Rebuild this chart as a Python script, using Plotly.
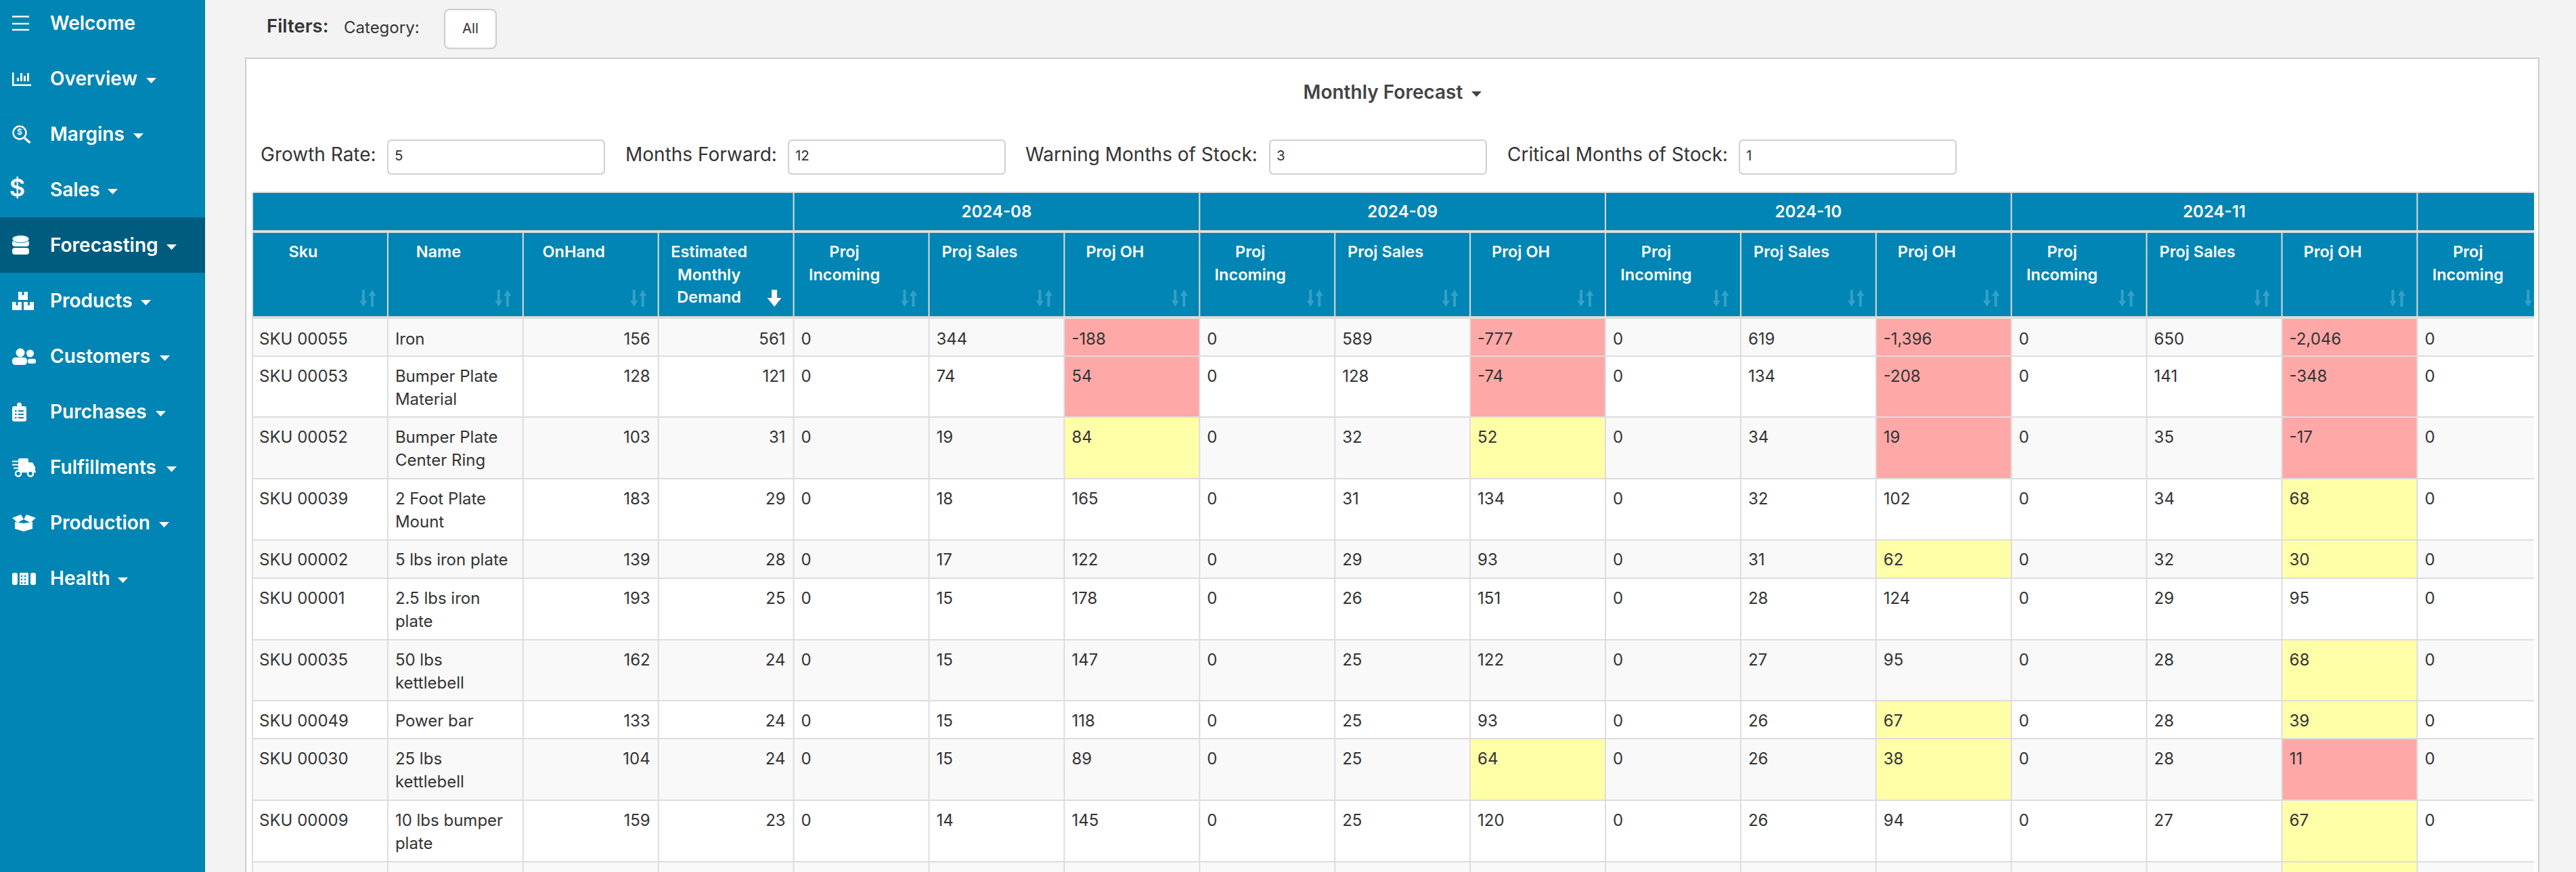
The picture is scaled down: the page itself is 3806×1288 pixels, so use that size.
import plotly.graph_objects as go

# ---------- data ----------
MENU = ["Welcome", "Overview", "Margins", "Sales", "Forecasting", "Products",
        "Customers", "Purchases", "Fulfillments", "Production", "Health"]
SKUS = ["SKU 00055", "SKU 00053", "SKU 00052", "SKU 00039", "SKU 00002",
        "SKU 00001", "SKU 00035", "SKU 00049", "SKU 00030", "SKU 00009"]
NAMES = [["Iron"], ["Bumper Plate", "Material"], ["Bumper Plate", "Center Ring"],
         ["2 Foot Plate", "Mount"], ["5 lbs iron plate"], ["2.5 lbs iron", "plate"],
         ["50 lbs", "kettlebell"], ["Power bar"], ["25 lbs", "kettlebell"],
         ["10 lbs bumper", "plate"]]
ON_HAND = [156, 128, 103, 183, 139, 193, 162, 133, 104, 159]
DEMAND = [561, 121, 31, 29, 28, 25, 24, 24, 24, 23]
MONTHS = ["2024-08", "2024-09", "2024-10", "2024-11"]
INCOMING = [0, 0, 0, 0, 0, 0, 0, 0, 0, 0]
SALES_08 = [344, 74, 19, 18, 17, 15, 15, 15, 15, 14]
SALES_09 = [589, 128, 32, 31, 29, 26, 25, 25, 25, 25]
SALES_10 = [619, 134, 34, 32, 31, 28, 27, 26, 26, 26]
SALES_11 = [650, 141, 35, 34, 32, 29, 28, 28, 28, 27]
OH_08 = [-188, 54, 84, 165, 122, 178, 147, 118, 89, 145]
OH_09 = [-777, -74, 52, 134, 93, 151, 122, 93, 64, 120]
OH_10 = [-1396, -208, 19, 102, 62, 124, 95, 67, 38, 94]
OH_11 = [-2046, -348, -17, 68, 30, 95, 68, 39, 11, 67]
FLAG_08 = ["c", "c", "w", "", "", "", "", "", "", ""]
FLAG_09 = ["c", "c", "w", "", "", "", "", "", "w", ""]
FLAG_10 = ["c", "c", "c", "", "w", "", "", "w", "w", ""]
FLAG_11 = ["c", "c", "c", "w", "w", "", "w", "w", "c", "w"]
SALES = [SALES_08, SALES_09, SALES_10, SALES_11]
OH = [OH_08, OH_09, OH_10, OH_11]
FLAGS = [FLAG_08, FLAG_09, FLAG_10, FLAG_11]
FILTER_LABELS = ["Growth Rate:", "Months Forward:", "Warning Months of Stock:", "Critical Months of Stock:"]
FILTER_VALUES = ["5", "12", "3", "1"]
HEADERS = [["Sku"], ["Name"], ["OnHand"], ["Estimated", "Monthly", "Demand"]]
MONTH_HEADERS = [["Proj", "Incoming"], ["Proj Sales"], ["Proj OH"]]

# ---------- styles / layout ----------
W, H = 3806, 1288
FONT = "Inter"
BLUE, DARK = "#0085B4", "#005C7F"
PAGE, TXT, LINE = "#F3F3F3", "#333333", "#DDDDDD"
RED, YELLOW, STRIPE = "#FFA8A8", "#FFFFA8", "#F9F9F9"
SORT = "#35A0C6"
T_L, T_R = 373, 3744
COL_W = 199.9
ROW_EDGES = [471, 526, 616, 707, 797.5, 854, 945, 1035, 1091, 1182, 1273, 1290]
ROW_TOP_PAD = 29.5
LINE_H = 34.3
TEXT_DY = 2


def col_x(i):
    return T_L + COL_W * i


shapes = []
groups = {}


def rect(x0, y0, x1, y1, fill, line=None, lw=0):
    shapes.append(dict(type="rect", x0=x0, y0=y0, x1=x1, y1=y1, fillcolor=fill, layer="below",
                       line=dict(color=line or fill, width=lw)))


def circle(cx, cy, rx, ry=None, fill="white", line=None, lw=0):
    ry = ry or rx
    shapes.append(dict(type="circle", x0=cx - rx, y0=cy - ry, x1=cx + rx, y1=cy + ry, fillcolor=fill,
                       layer="below", line=dict(color=line or fill, width=lw)))


def seg(x0, y0, x1, y1, color, lw=2):
    shapes.append(dict(type="line", x0=x0, y0=y0, x1=x1, y1=y1, layer="below", line=dict(color=color, width=lw)))


def poly(pts, fill="white"):
    d = "M" + " L".join(f"{x},{y}" for x, y in pts) + " Z"
    shapes.append(dict(type="path", path=d, fillcolor=fill, layer="below", line=dict(width=0)))


def rrect(x0, y0, x1, y1, r, fill, line=None, lw=0):
    d = (f"M{x0+r},{y0} L{x1-r},{y0} Q{x1},{y0} {x1},{y0+r} L{x1},{y1-r} Q{x1},{y1} {x1-r},{y1} "
         f"L{x0+r},{y1} Q{x0},{y1} {x0},{y1-r} L{x0},{y0+r} Q{x0},{y0} {x0+r},{y0} Z")
    shapes.append(dict(type="path", path=d, fillcolor=fill, layer="below",
                       line=dict(color=line or fill, width=lw)))


def text(x, y, s, size=24, color=TXT, weight=400, pos="middle right"):
    k = (size, color, weight, pos)
    g = groups.setdefault(k, ([], [], []))
    g[0].append(x)
    g[1].append(y + TEXT_DY)
    g[2].append(s)


def fmt(v):
    return f"{v:,}"


# page furniture
rect(0, 0, 303, H, BLUE)
rect(0, 321, 303, 403, DARK)
rect(363, 86, 3751, H + 4, "white", "#CCCCCC", 2)

# filter bar
text(394, 39, "Filters:", 27.5, TXT, 600)
text(508, 41, "Category:", 24, TXT, 400)
rrect(657, 14, 733, 71.5, 8, "white", "#CCCCCC", 2)
text(695, 42, "All", 20.5, TXT, 400, "middle center")
text(2043.5, 137, "Monthly Forecast", 28, "#444444", 600, "middle center")
poly([(2174, 135), (2189, 135), (2181.5, 143)], "#444444")

FILTER_X = [385, 924, 1515, 2227]
INPUT_X = [573, 1165, 1876, 2570]
for lx, ix, lab, val in zip(FILTER_X, INPUT_X, FILTER_LABELS, FILTER_VALUES):
    text(lx, 229, lab, 28)
    rrect(ix, 207, ix + 320, 257, 6, "white", "#D0D0D0", 2)
    text(ix + 10, 230, val, 20.5)

# sidebar menu
ROW_Y = [35 + 82 * i for i in range(len(MENU))]
CARET_X = [None, 216, 197, 159, 246, 208, 236, 230, 246, 235, 174]
for name, y, cx in zip(MENU, ROW_Y, CARET_X):
    text(74, y, name, 28, "white", 600)
    if cx:
        poly([(cx, y - 2), (cx + 15, y - 2), (cx + 7.5, y + 6)])

# sidebar icons
for yy in (24.5, 35, 44):
    rect(18, yy - 1.2, 43, yy + 1.2, "white")
rect(18, 107, 20.5, 127, "white")
rect(18, 124.5, 46, 127, "white")
for x0, y0 in ((25, 115), (30, 108), (35, 112), (40, 108)):
    rect(x0, y0, x0 + 3, 120, "white")
circle(29, 196, 9.5, fill=BLUE, line="white", lw=2.5)
seg(36.5, 204, 44.5, 211, "white", 3.5)
text(29, 194, "$", 12, "white", 600, "middle center")
text(25.5, 279, "$", 36, "white", 600, "middle center")
for y0, y1 in ((355, 364), (366, 376)):
    rrect(18, y0, 43, y1, 4, "white")
circle(30.5, 353, 12.5, 5.5, "white", BLUE, 1)
for x0, y0, x1, y1 in ((27, 431, 41, 443), (18, 446, 32, 458), (35, 446, 50, 458)):
    rect(x0, y0, x1, y1, "white")
    rect((x0 + x1) / 2 - 1.5, y0, (x0 + x1) / 2 + 1.5, y0 + 5, BLUE)
circle(30, 521, 6.5)
rrect(18, 528, 40, 539, 5, "white")
circle(44.5, 522, 5.5)
rrect(41, 530, 53, 537, 3, "white")
rrect(18, 600, 39, 622.5, 3, "white")
circle(28.5, 598, 3.5)
for yy in (607, 612, 617):
    rect(22, yy - 1, 24.5, yy + 1, BLUE)
    rect(27, yy - 1, 35, yy + 1, BLUE)
rrect(27, 677, 42, 698, 2, "white")
poly([(42, 683), (48, 683), (52, 690), (52, 698), (42, 698)])
rect(18, 680.5, 33, 682.5, "white")
rect(18, 685, 27, 687, BLUE)
rect(18, 685.5, 31, 687.5, "white")
rect(20, 690.5, 31, 692.5, "white")
for cx in (27, 45):
    circle(cx, 699.5, 4, fill=BLUE, line="white", lw=2.5)
rect(50, 696, 53, 698, "white")
poly([(22, 771), (35, 773), (48, 771), (48, 781), (35, 785), (22, 781)])
poly([(18, 765), (31, 760), (35, 767), (26, 772)])
poly([(39, 760), (53, 765), (45, 772), (35, 767)])
rrect(18, 846, 26, 864, 3, "white")
rrect(45, 846, 53, 864, 3, "white")
rect(29, 846, 42, 864, "white")
for dx in (32, 37):
    for dy in (851, 856, 861):
        rect(dx - 1, dy - 1.2, dx + 1.2, dy + 1.2, BLUE)

# table header bands
rect(T_L - 1, 283, T_R, 285, LINE)
rect(T_L, 285, T_R, 340, BLUE)
rect(T_L, 344, T_R, 467, BLUE)
rect(T_L, 340, T_R, 344, LINE)
rect(T_L, 467, T_R, 471, LINE)

# data rows: stripes
for r in range(len(ROW_EDGES) - 1):
    rect(T_L, ROW_EDGES[r], T_R, ROW_EDGES[r + 1], STRIPE if r % 2 == 0 else "white")

# flagged projected on-hand cells
COLORS = {"c": RED, "w": YELLOW}
for m, flags in enumerate(FLAGS):
    c = 4 + 3 * m + 2
    for r, f in enumerate(flags):
        if f:
            rect(col_x(c), ROW_EDGES[r], col_x(c + 1), ROW_EDGES[r + 1], COLORS[f])
rect(col_x(15), ROW_EDGES[10], col_x(16), ROW_EDGES[11], YELLOW)

# grid
for y in ROW_EDGES[1:-1]:
    seg(T_L, y, T_R, y, LINE, 2)
NCOLS = 17
for c in range(1, NCOLS):
    x = col_x(c)
    seg(x, 344, x, 467, LINE, 2)
    seg(x, 471, x, H, LINE, 2)
    if c >= 4 and (c - 4) % 3 == 0:
        seg(x, 285, x, 340, LINE, 2)
seg(T_L, 283, T_L, H, LINE, 2)


# header labels
def header_cell(c, lines, sorted_desc=False):
    cx = col_x(c) + COL_W / 2 - 25
    for i, s in enumerate(lines):
        text(cx, 372 + 33.8 * i, s, 23.5, "white", 600, "middle center")
    R = col_x(c + 1)
    if sorted_desc:
        a = R - 28.5
        poly([(a - 4, 428), (a + 4, 428), (a + 4, 440), (a + 10.5, 440), (a, 453),
              (a - 10.5, 440), (a - 4, 440)])
    else:
        a, b = R - 36, R - 23
        poly([(a - 2, 428), (a + 2, 428), (a + 2, 444), (a + 5.5, 444), (a, 453), (a - 5.5, 444), (a - 2, 444)], SORT)
        if b + 5 < T_R:
            poly([(b, 428), (b + 5.5, 437), (b + 2, 437), (b + 2, 453), (b - 2, 453), (b - 2, 437), (b - 5.5, 437)], SORT)


for c, lines in enumerate(HEADERS):
    header_cell(c, lines, sorted_desc=(c == 3))
for c in range(4, NCOLS):
    header_cell(c, MONTH_HEADERS[(c - 4) % 3])
for m, label in enumerate(MONTHS):
    text(col_x(4 + 3 * m) + 1.5 * COL_W, 313, label, 24, "white", 600, "middle center")

# body cells
for r in range(len(SKUS)):
    y = ROW_EDGES[r] + ROW_TOP_PAD
    text(col_x(0) + 10, y, SKUS[r])
    for i, s in enumerate(NAMES[r]):
        text(col_x(1) + 11, y + LINE_H * i, s)
    text(col_x(3) - 12, y, fmt(ON_HAND[r]), pos="middle left")
    text(col_x(4) - 12, y, fmt(DEMAND[r]), pos="middle left")
    for m in range(4):
        base = 4 + 3 * m
        text(col_x(base) + 11, y, fmt(INCOMING[r]))
        text(col_x(base + 1) + 11, y, fmt(SALES[m][r]))
        text(col_x(base + 2) + 11, y, fmt(OH[m][r]))
    text(col_x(16) + 11, y, fmt(INCOMING[r]))

fig = go.Figure()
for (size, color, weight, pos), (xs, ys, ss) in groups.items():
    fig.add_trace(go.Scatter(x=xs, y=ys, text=ss, mode="text", textposition=pos, hoverinfo="skip",
                             showlegend=False,
                             textfont=dict(family=FONT, size=size, color=color, weight=weight)))

fig.update_layout(
    width=W, height=H, autosize=False, margin=dict(l=0, r=0, t=0, b=0),
    paper_bgcolor=PAGE, plot_bgcolor=PAGE, shapes=shapes, showlegend=False,
    xaxis=dict(range=[0, W], visible=False, fixedrange=True),
    yaxis=dict(range=[H, 0], visible=False, fixedrange=True),
)
fig.write_html("out.html", config=dict(displayModeBar=False),
               post_script="document.body.style.margin='0';document.body.style.overflow='hidden';")
